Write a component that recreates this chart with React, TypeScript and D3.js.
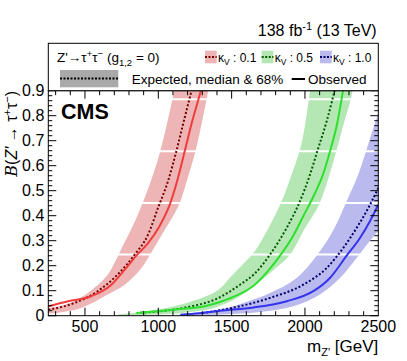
import React, { useEffect, useRef } from 'react'
import * as d3 from 'd3'

type Pt = [number, number]

// axis ticks
const massTicks = [500, 1000, 1500, 2000, 2500]
const brTicks = [0, 0.1, 0.2, 0.3, 0.4, 0.5, 0.6, 0.7, 0.8, 0.9]

// kappa_V = 0.1
const obs01: Pt[] = [[250, 0.038], [385, 0.058], [543, 0.078], [680, 0.124], [771, 0.184], [850, 0.24], [930, 0.29], [1010, 0.36], [1078, 0.444], [1134, 0.551], [1180, 0.658], [1225, 0.764], [1270, 0.858], [1300, 0.92]]
const exp01: Pt[] = [[250, 0.024], [430, 0.051], [589, 0.099], [725, 0.166], [839, 0.244], [930, 0.324], [998, 0.431], [1066, 0.538], [1123, 0.658], [1168, 0.764], [1214, 0.871], [1235, 0.92]]
const up01: Pt[] = [[250, 0.03], [340, 0.04], [450, 0.065], [550, 0.105], [650, 0.16], [700, 0.21], [750, 0.27], [850, 0.39], [950, 0.54], [1010, 0.651], [1060, 0.77], [1100, 0.878], [1120, 0.95]]
const dn01: Pt[] = [[250, 0.008], [350, 0.015], [474, 0.031], [633, 0.078], [771, 0.124], [884, 0.19], [943, 0.244], [1040, 0.34], [1137, 0.438], [1200, 0.55], [1250, 0.651], [1300, 0.78], [1341, 0.9], [1360, 0.95]]

// kappa_V = 0.5
const obs05: Pt[] = [[850, 0.011], [1100, 0.024], [1330, 0.04], [1420, 0.055], [1550, 0.085], [1650, 0.12], [1750, 0.18], [1830, 0.24], [1920, 0.32], [1990, 0.4], [2060, 0.48], [2120, 0.56], [2170, 0.656], [2220, 0.77], [2265, 0.92]]
const exp05: Pt[] = [[880, 0.012], [1170, 0.031], [1410, 0.071], [1557, 0.124], [1660, 0.17], [1761, 0.244], [1875, 0.351], [1966, 0.458], [2034, 0.564], [2091, 0.671], [2148, 0.778], [2210, 0.92]]
const up05: Pt[] = [[727, 0.005], [875, 0.015], [1148, 0.044], [1400, 0.1], [1500, 0.16], [1600, 0.22], [1660, 0.26], [1750, 0.35], [1841, 0.458], [1900, 0.55], [1966, 0.665], [2000, 0.76], [2035, 0.9], [2050, 0.95]]
const dn05: Pt[] = [[727, 0.0], [860, 0.002], [1100, 0.008], [1330, 0.024], [1421, 0.04], [1534, 0.07], [1693, 0.138], [1800, 0.19], [1898, 0.244], [2000, 0.35], [2091, 0.438], [2160, 0.55], [2217, 0.665], [2270, 0.78], [2310, 0.86], [2340, 0.95]]

// kappa_V = 1.0
const obs10: Pt[] = [[1150, 0.004], [1280, 0.01], [1422, 0.02], [1649, 0.033], [1876, 0.058], [2057, 0.098], [2170, 0.151], [2284, 0.24], [2375, 0.311], [2443, 0.378], [2500, 0.444]]
const exp10: Pt[] = [[1300, 0.01], [1557, 0.038], [1761, 0.071], [1988, 0.124], [2148, 0.191], [2261, 0.271], [2352, 0.351], [2432, 0.431], [2500, 0.511]]
const up10: Pt[] = [[1150, 0.006], [1300, 0.015], [1420, 0.025], [1580, 0.051], [1761, 0.091], [1943, 0.151], [2102, 0.258], [2200, 0.35], [2284, 0.458], [2360, 0.56], [2420, 0.665], [2500, 0.811]]
const dn10: Pt[] = [[1150, 0.0], [1421, 0.005], [1693, 0.015], [1920, 0.038], [2102, 0.085], [2239, 0.151], [2352, 0.231], [2430, 0.29], [2500, 0.34]]

// white rendering gaps that cut across the bands
const bandGaps = [0.245, 0.451, 0.658, 0.866]

const kappaLabels = ['0.1', '0.5', '1.0']

const series = [
    { kappa: kappaLabels[0], obs: obs01, exp: exp01, up: up01, dn: dn01, line: '#f03c3c', dark: '#7a0000', band: '#edb5b5' },
    { kappa: kappaLabels[1], obs: obs05, exp: exp05, up: up05, dn: dn05, line: '#2ee02e', dark: '#005a00', band: '#b5e7b5' },
    { kappa: kappaLabels[2], obs: obs10, exp: exp10, up: up10, dn: dn10, line: '#3434ee', dark: '#00006e', band: '#babaef' }
]

const App = () => {
    const ref = useRef<SVGGElement>(null)

    useEffect(() => {
        const L = 48.3, R = 378.3, T = 90.7, B = 315.7

        const g = d3.select(ref.current)
        g.selectAll('*').remove()

        const x = d3.scaleLinear().domain([250, 2500]).range([L, R])
        const y = d3.scaleLinear().domain([0, 0.9]).range([B, T])

        const line = d3.line<Pt>().x(d => x(d[0])).y(d => y(d[1])).curve(d3.curveMonotoneX)
        const edge = d3.line<Pt>().x(d => x(d[0])).y(d => y(d[1])).curve(d3.curveCatmullRom)

        const plot = g.append('g').attr('clip-path', 'url(#plotclip)')

        // 68% bands
        series.forEach(s => {
            const upper = edge(s.up) as string
            const lower = (edge([...s.dn].reverse()) as string).replace(/^M/, 'L')
            plot.append('path')
                .attr('d', upper + lower + 'Z')
                .attr('fill', s.band)
        })

        // white gaps across the bands
        plot.selectAll('.gap')
            .data(bandGaps)
            .enter()
            .append('line')
            .attr('x1', L).attr('x2', R)
            .attr('y1', d => y(d)).attr('y2', d => y(d))
            .attr('stroke', '#fff')
            .attr('stroke-width', 2)

        // expected and observed curves
        series.forEach(s => {
            plot.append('path')
                .datum(s.exp)
                .attr('fill', 'none')
                .attr('stroke', s.dark)
                .attr('stroke-width', 2)
                .attr('stroke-dasharray', '2,2')
                .attr('d', line)
            plot.append('path')
                .datum(s.obs)
                .attr('fill', 'none')
                .attr('stroke', s.line)
                .attr('stroke-width', 2)
                .attr('d', line)
        })

        // frame and ticks (ROOT style, inside, on all sides)
        g.append('rect')
            .attr('x', L).attr('y', T).attr('width', R - L).attr('height', B - T)
            .attr('fill', 'none').attr('stroke', '#000').attr('stroke-width', 1)

        const xMinor = d3.range(300, 2500, 100)
        const yMinor = d3.range(0, 0.9001, 0.02)
        const ticks = g.append('g').attr('stroke', '#000').attr('stroke-width', 1)
        xMinor.forEach(m => {
            const len = m % 500 === 0 ? 8 : 4.5
            ticks.append('line').attr('x1', x(m)).attr('x2', x(m)).attr('y1', B).attr('y2', B - len)
            ticks.append('line').attr('x1', x(m)).attr('x2', x(m)).attr('y1', T).attr('y2', T + len)
        })
        yMinor.forEach(v => {
            const major = Math.abs(v * 10 - Math.round(v * 10)) < 1e-6
            const len = major ? 8 : 4
            ticks.append('line').attr('x1', L).attr('x2', L + len).attr('y1', y(v)).attr('y2', y(v))
            ticks.append('line').attr('x1', R).attr('x2', R - len).attr('y1', y(v)).attr('y2', y(v))
        })

        // tick labels
        g.selectAll('.xl')
            .data(massTicks)
            .enter()
            .append('text')
            .attr('x', d => x(d))
            .attr('y', B + 16.5)
            .attr('text-anchor', 'middle')
            .style('font-size', '16px')
            .text(d => d)

        g.selectAll('.yl')
            .data(brTicks)
            .enter()
            .append('text')
            .attr('x', L - 4)
            .attr('y', d => y(d) + 5.5)
            .attr('text-anchor', 'end')
            .style('font-size', '16px')
            .text(d => (d === 0 ? '0' : d3.format('.1f')(d)))

        // x title
        const xt = g.append('text')
            .attr('x', R).attr('y', 352)
            .attr('text-anchor', 'end')
            .style('font-size', '17px')
        xt.append('tspan').text('m')
        xt.append('tspan').attr('dy', 4).style('font-size', '11px').text('Z\'')
        xt.append('tspan').attr('dy', -4).text(' [GeV]')

        // y title
        const yt = g.append('text')
            .attr('transform', 'translate(17,91) rotate(-90)')
            .attr('text-anchor', 'end')
            .style('font-size', '16px')
        yt.append('tspan').style('font-family', 'DejaVu Serif, serif').style('font-style', 'italic').text('B')
        yt.append('tspan').text('(')
        yt.append('tspan').style('font-style', 'italic').text('Z\'')
        yt.append('tspan').text(' \u2192 \u03c4')
        yt.append('tspan').attr('dy', -6).style('font-size', '11px').text('+')
        yt.append('tspan').attr('dy', 6).text('\u03c4')
        yt.append('tspan').attr('dy', -6).style('font-size', '11px').text('\u2212')
        yt.append('tspan').attr('dy', 6).text(')')

        // lumi label
        const lumi = g.append('text')
            .attr('x', 376.7).attr('y', 36)
            .attr('text-anchor', 'end')
            .style('font-size', '16px')
        lumi.append('tspan').text('138 fb')
        lumi.append('tspan').attr('dy', -6).style('font-size', '11px').text('-1')
        lumi.append('tspan').attr('dy', 6).text(' (13 TeV)')

        // CMS
        g.append('text')
            .attr('x', 61).attr('y', 118.5)
            .style('font-size', '21.5px')
            .style('font-weight', 'bold')
            .text('CMS')

        // legend box
        g.append('rect')
            .attr('x', L).attr('y', 43.3).attr('width', R - L).attr('height', T - 43.3)
            .attr('fill', '#fff').attr('stroke', '#000').attr('stroke-width', 1)

        const leg = g.append('g').style('font-size', '13.5px')
        const proc = leg.append('text').attr('x', 57).attr('y', 61.5)
        proc.append('tspan').text('Z\'\u2192\u03c4')
        proc.append('tspan').attr('dy', -5).style('font-size', '9.5px').text('+')
        proc.append('tspan').attr('dy', 5).text('\u03c4')
        proc.append('tspan').attr('dy', -5).style('font-size', '9.5px').text('\u2212')
        proc.append('tspan').attr('dy', 5).text(' (g')
        proc.append('tspan').attr('dy', 4).style('font-size', '9.5px').text('1,2')
        proc.append('tspan').attr('dy', -4).text(' = 0)')

        const swX = [205, 261.7, 320]
        series.forEach((s, i) => {
            leg.append('rect')
                .attr('x', swX[i]).attr('y', 50.7).attr('width', 11.7).attr('height', 12.6)
                .attr('fill', s.band)
            leg.append('line')
                .attr('x1', swX[i]).attr('x2', swX[i] + 11.7).attr('y1', 57).attr('y2', 57)
                .attr('stroke', s.dark).attr('stroke-width', 2).attr('stroke-dasharray', '2,1.5')
            const t = leg.append('text').attr('x', swX[i] + 13).attr('y', 61.5).style('font-size', '12px')
            t.append('tspan').text('\u03ba')
            t.append('tspan').attr('dy', 3).style('font-size', '8.5px').text('V')
            t.append('tspan').attr('dy', -3).text(` : ${s.kappa}`)
        })

        leg.append('rect')
            .attr('x', 60).attr('y', 70).attr('width', 58.3).attr('height', 17.3)
            .attr('fill', '#a9a9a9')
        leg.append('line')
            .attr('x1', 60).attr('x2', 118.3).attr('y1', 78.6).attr('y2', 78.6)
            .attr('stroke', '#000').attr('stroke-width', 2).attr('stroke-dasharray', '2,1.5')
        leg.append('text').attr('x', 131.7).attr('y', 83.5).text('Expected, median & 68%')
        leg.append('line')
            .attr('x1', 291.7).attr('x2', 305).attr('y1', 79).attr('y2', 79)
            .attr('stroke', '#000').attr('stroke-width', 2)
        leg.append('text').attr('x', 308).attr('y', 83.5).text('Observed')
    }, [])

    return (
        <svg width={407} height={361}
            style={{ position: 'absolute', left: 0, top: 0, background: '#fff', fontFamily: 'Liberation Sans, Arial, Helvetica, sans-serif' }}>
            <defs>
                <clipPath id="plotclip">
                    <rect x={48.3} y={90.7} width={330} height={225} />
                </clipPath>
            </defs>
            <g ref={ref} />
        </svg>
    )
}

export default App
